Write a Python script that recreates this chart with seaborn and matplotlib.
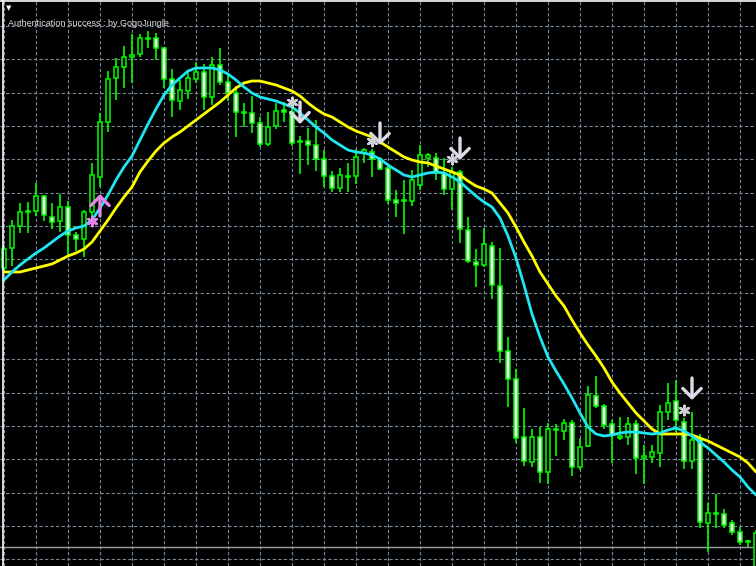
import matplotlib
matplotlib.use('Agg')
import matplotlib.pyplot as plt
from matplotlib.lines import Line2D
import seaborn as sns
import pandas as pd

# bar data (arbitrary price units)
opens = [2174, 2234, 2300, 2342, 2345, 2390, 2327, 2315, 2357, 2273,
         2261, 2342, 2447, 2612, 2744, 2777, 2807, 2816, 2861, 2864,
         2834, 2741, 2675, 2705, 2741, 2762, 2687, 2783, 2732, 2699,
         2642, 2639, 2609, 2546, 2600, 2648, 2642, 2552, 2555, 2543,
         2501, 2450, 2414, 2447, 2450, 2519, 2522, 2501, 2474, 2378,
         2375, 2375, 2423, 2504, 2504, 2459, 2411, 2462, 2288, 2192,
         2183, 2240, 2120, 1925, 1841, 1667, 1592, 1667, 1562, 1691,
         1685, 1709, 1577, 1640, 1790, 1760, 1706, 1664, 1667, 1706,
         1604, 1607, 1619, 1742, 1775, 1712, 1595, 1661, 1409, 1436,
         1436, 1409, 1382, 1352, 1268]
highs = [2243, 2318, 2369, 2372, 2429, 2393, 2369, 2396, 2375, 2282,
         2348, 2489, 2639, 2765, 2804, 2840, 2876, 2876, 2885, 2879,
         2837, 2771, 2738, 2768, 2792, 2786, 2807, 2834, 2753, 2720,
         2669, 2690, 2627, 2642, 2669, 2672, 2663, 2570, 2594, 2618,
         2528, 2465, 2474, 2489, 2531, 2534, 2531, 2507, 2480, 2408,
         2438, 2468, 2543, 2519, 2519, 2504, 2477, 2468, 2327, 2231,
         2294, 2252, 2234, 1967, 1871, 1754, 1691, 1697, 1709, 1706,
         1721, 1718, 1664, 1820, 1850, 1766, 1718, 1727, 1727, 1718,
         1643, 1643, 1763, 1829, 1838, 1724, 1742, 1676, 1469, 1496,
         1451, 1418, 1397, 1358, 1388]
lows = [2162, 2180, 2279, 2279, 2330, 2315, 2291, 2282, 2213, 2225,
        2207, 2324, 2417, 2582, 2678, 2714, 2729, 2807, 2834, 2798,
        2714, 2627, 2648, 2681, 2729, 2648, 2663, 2723, 2675, 2567,
        2597, 2579, 2537, 2540, 2591, 2612, 2540, 2456, 2483, 2465,
        2417, 2402, 2402, 2402, 2426, 2489, 2447, 2468, 2366, 2327,
        2276, 2360, 2408, 2477, 2438, 2393, 2348, 2249, 2189, 2117,
        2177, 2081, 1889, 1757, 1649, 1580, 1577, 1529, 1526, 1610,
        1658, 1550, 1568, 1637, 1754, 1691, 1589, 1658, 1643, 1556,
        1526, 1589, 1577, 1718, 1682, 1571, 1571, 1394, 1322, 1394,
        1394, 1373, 1343, 1337, 1253]
closes = [2231, 2300, 2342, 2345, 2390, 2333, 2312, 2357, 2273, 2261,
          2342, 2453, 2612, 2741, 2777, 2807, 2813, 2864, 2864, 2834,
          2741, 2678, 2708, 2744, 2762, 2687, 2783, 2732, 2699, 2642,
          2639, 2609, 2546, 2597, 2645, 2642, 2549, 2555, 2543, 2501,
          2450, 2414, 2453, 2450, 2507, 2528, 2501, 2471, 2378, 2369,
          2378, 2438, 2513, 2513, 2459, 2411, 2462, 2291, 2195, 2183,
          2246, 2123, 1925, 1841, 1664, 1595, 1667, 1562, 1691, 1688,
          1709, 1577, 1637, 1793, 1760, 1703, 1673, 1670, 1706, 1604,
          1610, 1622, 1742, 1769, 1718, 1595, 1658, 1412, 1439, 1439,
          1403, 1382, 1352, 1355, 1379]

# moving averages
ma_fast = [2138, 2162, 2183, 2201, 2219, 2234, 2252, 2270, 2285, 2294,
           2300, 2318, 2354, 2393, 2438, 2477, 2510, 2558, 2606, 2651,
           2693, 2723, 2744, 2765, 2774, 2774, 2774, 2768, 2756, 2738,
           2717, 2699, 2687, 2681, 2675, 2666, 2657, 2639, 2618, 2597,
           2579, 2558, 2543, 2528, 2522, 2519, 2513, 2501, 2483, 2468,
           2453, 2447, 2453, 2459, 2462, 2459, 2447, 2432, 2411, 2390,
           2372, 2357, 2324, 2270, 2204, 2123, 2036, 1967, 1907, 1865,
           1826, 1784, 1739, 1697, 1676, 1670, 1673, 1679, 1682, 1682,
           1679, 1676, 1679, 1688, 1694, 1685, 1670, 1652, 1634, 1613,
           1592, 1568, 1547, 1517, 1493]
ma_slow = [2162, 2162, 2162, 2168, 2174, 2180, 2186, 2198, 2210, 2219,
           2231, 2252, 2285, 2318, 2354, 2387, 2417, 2462, 2495, 2525,
           2549, 2567, 2582, 2600, 2618, 2636, 2654, 2672, 2693, 2714,
           2729, 2735, 2735, 2729, 2723, 2714, 2705, 2690, 2669, 2651,
           2636, 2627, 2612, 2597, 2585, 2576, 2567, 2552, 2537, 2522,
           2507, 2498, 2492, 2489, 2480, 2471, 2462, 2453, 2435, 2420,
           2411, 2399, 2369, 2339, 2297, 2252, 2210, 2162, 2126, 2090,
           2060, 2018, 1979, 1943, 1910, 1874, 1832, 1799, 1769, 1739,
           1715, 1691, 1676, 1676, 1676, 1676, 1673, 1664, 1655, 1643,
           1631, 1619, 1607, 1589, 1562]

# signals
sell_bars = [37, 47, 57, 86]
sell_prices = [2606, 2543, 2498, 1778]
sell_star_bars = [36, 46, 56, 85]
sell_star_prices = [2672, 2555, 2501, 1748]
buy_bars = [12]
buy_prices = [2396]
buy_star_bars = [11]
buy_star_prices = [2315]

bid_price = 1337
label = "Authentication success : by GogoJungle"

sns.set_theme(style='dark')
plt.rcParams['font.family'] = ['Liberation Sans', 'DejaVu Sans']

fig = plt.figure(figsize=(7.56, 5.66), dpi=100, facecolor='black')
ax = fig.add_axes([0, 0, 1, 1])
ax.set_facecolor('black')

idx = list(range(len(opens)))
green = '#00FF00'

# wicks
ax.vlines(idx, lows, highs, color=green, lw=1.2, zorder=2)
# bodies: white = falling bar, black = rising bar
bottoms = [min(o, c) for o, c in zip(opens, closes)]
heights = [abs(c - o) for o, c in zip(opens, closes)]
fills = ['white' if c < o else 'black' for o, c in zip(opens, closes)]
ax.bar(idx, heights, bottom=bottoms, width=0.62, color=fills,
       edgecolor=green, linewidth=1.1, zorder=3)

df = pd.DataFrame({'bar': idx, 'fast': ma_fast, 'slow': ma_slow})
sns.lineplot(data=df, x='bar', y='slow', color='#FFFF00', lw=2, ax=ax, zorder=4)
sns.lineplot(data=df, x='bar', y='fast', color='#1EE6F2', lw=2, ax=ax, zorder=4)

ax.axhline(bid_price, color='#9AA0A8', lw=1, zorder=1)

# sell arrows and stars
head = '->,head_length=0.55,head_width=0.55'
for b, p in zip(sell_bars, sell_prices):
    ax.annotate('', xy=(b, p), xytext=(b, p + 66),
                arrowprops=dict(arrowstyle=head, color='#DCDCE8', lw=2.4,
                                mutation_scale=12, shrinkA=0, shrinkB=0),
                zorder=6)
ax.scatter(sell_star_bars, sell_star_prices, marker=(6, 2, 0), s=45,
           color='#CFCFD8', linewidths=1.8, zorder=6)

# buy arrow and star
for b, p in zip(buy_bars, buy_prices):
    ax.annotate('', xy=(b, p), xytext=(b, p - 66),
                arrowprops=dict(arrowstyle=head, color='#E585E8', lw=2.4,
                                mutation_scale=12, shrinkA=0, shrinkB=0),
                zorder=6)
ax.scatter(buy_star_bars, buy_star_prices, marker=(6, 2, 0), s=45,
           color='#E585E8', linewidths=1.8, zorder=6)

ax.set_xlim(-0.5, 94)
ax.set_ylim(1280, 2978)
ax.set_xticks(range(0, 95, 4))
ax.set_yticks(range(1300, 2901, 100))
ax.grid(True, color='#778899', linestyle=(0, (3, 2)), lw=0.8)
ax.set_axisbelow(True)
ax.tick_params(length=0, labelbottom=False, labelleft=False)
ax.set_xlabel('')
ax.set_ylabel('')
for s in ax.spines.values():
    s.set_visible(False)

# window frame and header
fig.add_artist(Line2D([3 / 756, 3 / 756], [0, 1], color='white', lw=1.2))
fig.add_artist(Line2D([0, 1], [1 - 1 / 566, 1 - 1 / 566], color='white', lw=1.2))
fig.text(9 / 756, 1 - 8 / 566, '\u25BC', color='white', fontsize=5,
         ha='center', va='center', family='DejaVu Sans')
fig.text(8 / 756, 1 - 26 / 566, label, color='#E0E0E0', fontsize=6.5,
         ha='left', va='baseline')

fig.savefig('out.png', dpi=100, facecolor='black')
